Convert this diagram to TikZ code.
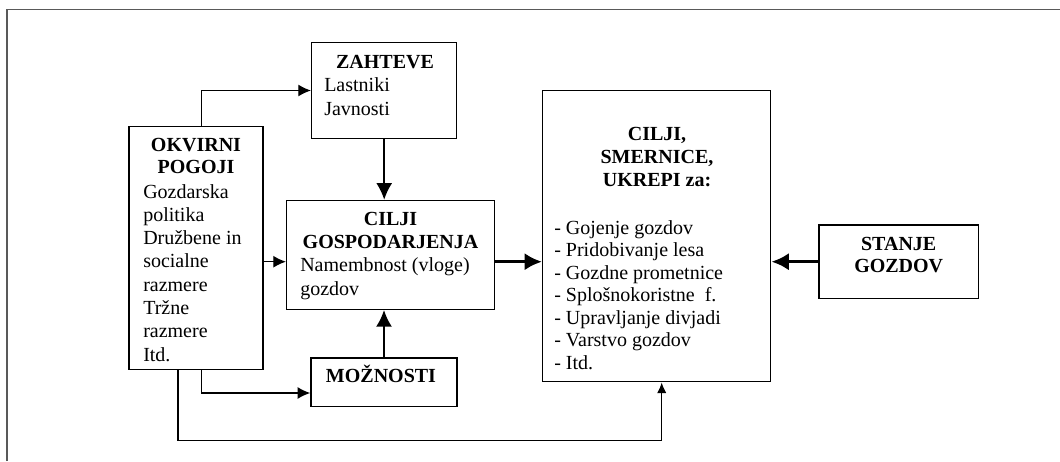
\documentclass[tikz,border=0pt]{standalone}
\usepackage{fontspec}
\setmainfont{Liberation Serif}
\usetikzlibrary{arrows.meta,calc}
\tikzset{
  box/.style={draw, line width=1.1pt, inner sep=0pt},
  txt/.style={inner sep=0pt, font=\fontsize{15}{17}\selectfont},
  hdr/.style={txt, anchor=base, font=\fontsize{15}{17}\selectfont\bfseries},
  itm/.style={txt, anchor=base west},
  conn/.style={line width=1pt, -{Latex[length=9.5pt,width=9pt]}},
  bigconn/.style={line width=1.4pt, -{Latex[length=12.5pt,width=12pt]}},
  fatconn/.style={line width=2.6pt, -{Latex[length=13pt,width=13pt]}},
}
\begin{document}
\begin{tikzpicture}[x=0.75pt,y=0.75pt,yscale=-1,xscale=1]
\useasboundingbox (0,0) rectangle (1060,461);

%Frame
\draw [black!65, line width=0.9pt] (7,461) -- (7,9.5) -- (1060,9.5) ;

%Shape: Rectangle [okvirni pogoji]
\node (okvir) [box, minimum width=100.5pt, minimum height=182pt] at (196,248) {};
%Shape: Rectangle [zahteve]
\node (zaht) [box, minimum width=108.75pt, minimum height=71.7pt] at (384.2,90.5) {};
%Shape: Rectangle [cilji gospodarjenja]
\node (ciljg) [box, minimum width=155.7pt, minimum height=81.6pt] at (390.5,254.9) {};
%Shape: Rectangle [moznosti]
\node (mozn) [box, minimum width=109.5pt, minimum height=36.4pt] at (384,382.25) {};
%Shape: Rectangle [cilji, smernice, ukrepi]
\node (ukrepi) [box, minimum width=171pt, minimum height=218.25pt] at (656.7,236.2) {};
%Shape: Rectangle [stanje gozdov]
\node (stanje) [box, minimum width=119.5pt, minimum height=55pt] at (898.7,261.7) {};

% Text Node
\foreach \t [count=\i] in {OKVIRNI,POGOJI}
  \node (okvh\i) [hdr] at (196,{151.7+21.8*(\i-1)}) {\t};
\foreach \t [count=\i] in {Gozdarska,politika,Družbene in,socialne,razmere,Tržne,razmere,Itd.}
  \node (okvb\i) [itm] at (143,{198+23.33*(\i-1)}) {\t};
% Text Node
\node (zahth) [hdr] at (385,68) {ZAHTEVE};
\foreach \t [count=\i] in {Lastniki,Javnosti}
  \node (zahtb\i) [itm] at (324,{91.7+23.3*(\i-1)}) {\t};
% Text Node
\foreach \t [count=\i] in {CILJI,GOSPODARJENJA}
  \node (ciljgh\i) [hdr] at (390.5,{225+23.3*(\i-1)}) {\t};
\foreach \t [count=\i] in {Namembnost (vloge),gozdov}
  \node (ciljgb\i) [itm] at (300,{271.7+23.3*(\i-1)}) {\t};
% Text Node
\node (moznh) [hdr] at (381,382.7) {MOŽNOSTI};
% Text Node
\foreach \t [count=\i] in {{CILJI,},{SMERNICE,},UKREPI za:}
  \node (ukreph\i) [hdr] at (657,{140+23.3*(\i-1)}) {\t};
\foreach \t [count=\i] in {Gojenje gozdov,Pridobivanje lesa,Gozdne prometnice,Splošnokoristne\ \ f.,Upravljanje divjadi,Varstvo gozdov,Itd.}
  \node (ukrepb\i) [itm] at (554,{234+22.5*(\i-1)}) {- \t};
% Text Node
\foreach \t [count=\i] in {STANJE,GOZDOV}
  \node (stanjeh\i) [hdr] at (898.7,{250+22*(\i-1)}) {\t};

%Connectors
\draw [conn] ([xshift=4.3pt]okvir.north) |- (zaht.west) ;
\draw [bigconn] (zaht.south) -- (zaht.south |- ciljg.north) ;
\draw [conn] (okvir.east |- stanje.west) -- (ciljg.west |- stanje.west) ;
\draw [conn] ([xshift=4.3pt]okvir.south) |- ($(mozn.west)!0.43!(mozn.south west)$) ;
\draw [bigconn] (mozn.north) -- (mozn.north |- ciljg.south) ;
\draw [fatconn] (ciljg.east |- stanje.west) -- (ukrepi.west |- stanje.west) ;
\draw [fatconn] (stanje.west) -- (stanje.west -| ukrepi.east) ;
\coordinate (loopy) at (400,440.7) ;
\draw [line width=1pt, -{Latex[length=8pt,width=7pt]}] ([xshift=-13.5pt]okvir.south) -- ([xshift=-13.5pt]okvir.south |- loopy) -| ([xshift=3.75pt]ukrepi.south) ;

\end{tikzpicture}
\end{document}
